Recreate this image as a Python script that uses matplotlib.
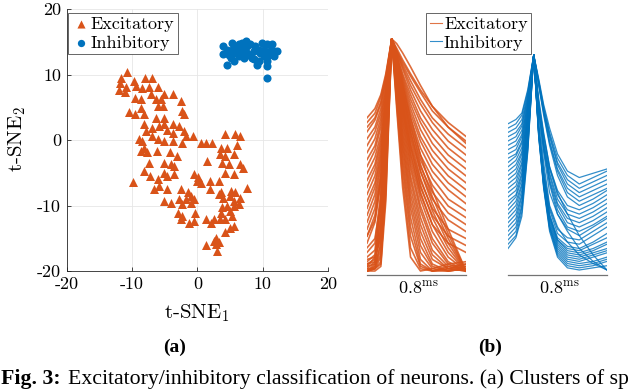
import matplotlib
matplotlib.use("Agg")
import matplotlib.pyplot as plt
from matplotlib.lines import Line2D

plt.rcParams['mathtext.fontset'] = 'cm'
plt.rcParams['axes.unicode_minus'] = False
plt.rcParams['font.family'] = ['cmr10', 'DejaVu Serif']
plt.rcParams['axes.formatter.use_mathtext'] = True

ORANGE = '#D95319'
BLUE = '#0072BD'

# ---------------- (a) t-SNE scatter data ----------------
exc_x = [-10.8, -11.7, -9.7, -11.9, -8.0, -6.9, -10.9, -12.0, -11.1, -9.4, -8.4, -7.4, -6.1,
         -9.6, -8.6, -7.1, -6.3, -5.1, -3.7, -5.6, -2.5, -10.4, -9.6, -8.6, -8.1, -6.1, -5.2,
         -2.3, -2.1, -6.3, -5.1, -8.1, -7.0, -5.8, -5.1, -3.8, -2.8, -7.8, -6.9, -4.7, -3.7,
         -2.0, -1.8, -0.6, -8.9, -8.5, -6.1, -5.1, -3.8, -2.3, 0.5, 1.3, 2.3, 4.2, 5.8, 6.5,
         -8.7, -7.7, -8.1, -6.2, -4.2, -3.1, -7.4, -5.1, -4.1, -3.6, 3.6, 4.6, 6.0, 3.5, 4.2,
         5.6, 1.5, 3.8, 4.8, 6.6, 7.0, -8.1, -5.1, -4.6, -3.6, -7.3, -6.1, -9.9, -0.5, 0.1,
         0.0, 0.5, 1.9, 3.3, 4.2, 5.6, 7.6, -5.8, -6.6, -4.6, -2.5, -1.5, 2.0, 3.6, 5.1, 5.8,
         6.6, -5.1, -4.1, -2.8, -1.8, -0.9, -0.5, -2.3, -1.0, -3.0, -2.3, -0.3, -2.5, -1.3,
         -0.5, 1.4, 2.1, 2.5, 3.5, 4.3, 5.3, 5.6, 4.6, 3.7, 3.6, 3.3, 3.9, 5.0, 5.6, 6.3, 5.0,
         5.6, 5.0, 4.3, 2.8, 2.5, 3.3, 1.4, 2.8, 3.0]
exc_y = [10.4, 9.5, 9.0, 8.7, 9.5, 9.5, 8.1, 7.6, 7.3, 8.3, 8.0, 8.1, 8.1,
         6.4, 6.2, 7.0, 6.2, 7.0, 7.0, 6.2, 5.9, 4.2, 3.9, 4.9, 3.9, 5.2, 5.2,
         4.4, 3.9, 3.4, 3.4, 2.4, 1.9, 2.1, 2.4, 2.4, 2.1, 1.4, 0.6, 1.6, 1.1,
         1.4, 0.6, 0.6, 0.2, -0.2, 0.1, -0.2, -0.2, -0.4, -0.4, -0.4, -0.4, 0.9, 0.9, 0.6,
         -1.7, -1.9, -1.2, -1.7, -1.9, -2.4, -3.5, -3.5, -3.7, -4.0, -1.2, -1.2, -0.7, -2.2, -2.4,
         -2.2, -3.2, -3.5, -3.7, -3.7, -4.2, -4.7, -5.0, -5.5, -5.2, -5.5, -6.0, -6.4, -5.2, -5.7,
         -6.2, -6.5, -6.2, -6.2, -5.0, -5.2, -7.4, -7.0, -7.5, -7.5, -7.5, -8.0, -7.5, -8.0, -7.8, -8.0,
         -8.8, -9.3, -9.6, -9.0, -9.0, -8.5, -9.0, -9.8, -9.6, -11.1, -11.6, -11.1, -12.1, -12.6,
         -12.3, -12.1, -12.6, -12.1, -12.1, -12.1, -11.6, -10.0, -10.0, -10.3, -11.1, -8.3, -8.8, -8.5, -9.3, -9.8, -10.8,
         -13.1, -13.4, -14.1, -14.9, -15.4, -15.6, -16.1, -15.9, -16.9]

inh_x = [4.0, 4.0, 4.6, 5.3, 5.8, 6.3, 7.4, 7.6, 6.9, 5.6, 5.1, 4.6, 5.6, 6.3, 7.9,
         8.6, 8.9, 9.9, 10.7, 11.4, 11.7, 12.2, 9.6, 10.2, 10.9, 9.4, 10.7, 9.1, 8.4,
         7.1, 7.6, 10.7, 10.2, 8.6, 6.6, 11.2, 4.8, 6.1, 9.4, 11.7, 10.7, 8.1, 6.9, 5.3]
inh_y = [14.3, 13.2, 13.8, 14.8, 14.3, 14.6, 15.1, 14.3, 13.8, 13.3, 12.5, 11.5, 12.0, 12.8, 13.0,
         13.6, 14.3, 14.8, 14.6, 14.6, 13.6, 13.6, 13.3, 12.8, 13.0, 12.0, 12.0, 11.5, 12.5,
         12.5, 13.3, 9.5, 13.8, 12.3, 13.3, 13.8, 13.0, 13.8, 13.8, 12.8, 11.3, 14.6, 14.8, 13.8]

tick_vals = [-20, -10, 0, 10, 20]
tick_labels = ['-20', '-10', '0', '10', '20']

# ---------------- (b) normalized spike waveforms (0.8 ms window) ----------------
# each waveform = rising part + peak (1.0) + falling part
exc_t = [0.00, 0.08, 0.14, 0.19, 0.25, 0.30, 0.36, 0.44, 0.54, 0.66, 0.82, 1.00]
exc_rise = [
    [0.00, 0.00, 0.02, 0.30], [0.00, 0.01, 0.04, 0.36], [0.01, 0.01, 0.06, 0.42],
    [0.00, 0.02, 0.09, 0.47], [0.02, 0.03, 0.11, 0.52], [0.00, 0.01, 0.13, 0.56],
    [0.03, 0.05, 0.16, 0.60], [0.01, 0.04, 0.19, 0.63], [0.04, 0.07, 0.22, 0.66],
    [0.00, 0.03, 0.25, 0.68], [0.06, 0.09, 0.28, 0.70], [0.02, 0.06, 0.31, 0.72],
    [0.08, 0.12, 0.34, 0.74], [0.00, 0.02, 0.07, 0.33], [0.05, 0.06, 0.14, 0.44],
    [0.03, 0.04, 0.18, 0.50], [0.10, 0.14, 0.30, 0.62], [0.00, 0.01, 0.03, 0.39],
    [0.66, 0.70, 0.76, 0.85], [0.64, 0.68, 0.75, 0.84], [0.62, 0.66, 0.73, 0.83],
    [0.60, 0.65, 0.72, 0.82], [0.57, 0.62, 0.70, 0.81], [0.54, 0.60, 0.68, 0.79],
    [0.51, 0.57, 0.66, 0.78], [0.48, 0.54, 0.64, 0.77], [0.45, 0.52, 0.62, 0.75],
    [0.42, 0.49, 0.59, 0.74], [0.39, 0.46, 0.57, 0.73], [0.36, 0.44, 0.55, 0.71],
    [0.33, 0.41, 0.53, 0.70], [0.30, 0.38, 0.51, 0.68], [0.27, 0.36, 0.49, 0.67],
    [0.24, 0.33, 0.47, 0.66], [0.21, 0.30, 0.45, 0.64], [0.18, 0.27, 0.42, 0.63],
    [0.15, 0.24, 0.40, 0.62], [0.12, 0.21, 0.38, 0.60], [0.15, 0.22, 0.40, 0.70],
]
exc_fall = [
    [0.96, 0.91, 0.85, 0.78, 0.71, 0.64, 0.58], [0.92, 0.82, 0.70, 0.58, 0.49, 0.41, 0.35],
    [0.94, 0.88, 0.80, 0.72, 0.64, 0.56, 0.50], [0.89, 0.76, 0.60, 0.45, 0.34, 0.25, 0.20],
    [0.93, 0.85, 0.76, 0.66, 0.58, 0.50, 0.44], [0.86, 0.71, 0.53, 0.36, 0.24, 0.15, 0.11],
    [0.95, 0.90, 0.84, 0.77, 0.69, 0.62, 0.56], [0.91, 0.80, 0.66, 0.53, 0.43, 0.35, 0.29],
    [0.93, 0.84, 0.74, 0.64, 0.55, 0.47, 0.41], [0.87, 0.72, 0.55, 0.39, 0.27, 0.18, 0.14],
    [0.95, 0.89, 0.82, 0.74, 0.66, 0.59, 0.53], [0.89, 0.77, 0.62, 0.48, 0.37, 0.28, 0.23],
    [0.92, 0.83, 0.72, 0.61, 0.52, 0.44, 0.38], [0.85, 0.69, 0.50, 0.33, 0.20, 0.12, 0.08],
    [0.94, 0.87, 0.78, 0.69, 0.61, 0.53, 0.47], [0.90, 0.78, 0.64, 0.50, 0.40, 0.31, 0.26],
    [0.91, 0.81, 0.68, 0.56, 0.46, 0.38, 0.32], [0.88, 0.74, 0.58, 0.43, 0.31, 0.22, 0.17],
    [0.91, 0.80, 0.66, 0.50, 0.35, 0.18, 0.00], [0.77, 0.50, 0.23, 0.05, 0.00, 0.00, 0.02],
    [0.84, 0.65, 0.44, 0.26, 0.12, 0.03, 0.00], [0.70, 0.36, 0.06, 0.00, 0.01, 0.03, 0.04],
    [0.87, 0.72, 0.54, 0.37, 0.23, 0.10, 0.00], [0.80, 0.57, 0.33, 0.14, 0.03, 0.00, 0.01],
    [0.74, 0.44, 0.15, 0.02, 0.00, 0.01, 0.03], [0.89, 0.76, 0.60, 0.43, 0.29, 0.14, 0.00],
    [0.82, 0.61, 0.39, 0.20, 0.07, 0.01, 0.00], [0.78, 0.53, 0.27, 0.08, 0.01, 0.00, 0.01],
    [0.85, 0.68, 0.48, 0.31, 0.17, 0.06, 0.00], [0.72, 0.40, 0.10, 0.01, 0.00, 0.02, 0.03],
    [0.90, 0.78, 0.63, 0.46, 0.32, 0.16, 0.00], [0.81, 0.59, 0.36, 0.17, 0.05, 0.01, 0.00],
    [0.76, 0.47, 0.19, 0.03, 0.00, 0.01, 0.02], [0.86, 0.70, 0.51, 0.34, 0.20, 0.08, 0.00],
    [0.83, 0.63, 0.41, 0.23, 0.09, 0.02, 0.00], [0.79, 0.55, 0.30, 0.11, 0.02, 0.00, 0.01],
    [0.88, 0.74, 0.57, 0.40, 0.26, 0.12, 0.00], [0.84, 0.66, 0.46, 0.28, 0.14, 0.04, 0.00],
    [0.98, 0.94, 0.88, 0.80, 0.71, 0.62, 0.55],
]

inh_t = [0.00, 0.08, 0.14, 0.20, 0.26, 0.31, 0.36, 0.42, 0.50, 0.60, 0.72, 0.86, 1.00]
inh_rise = [
    [0.68, 0.70, 0.73, 0.84], [0.66, 0.68, 0.72, 0.83], [0.64, 0.66, 0.70, 0.82],
    [0.62, 0.64, 0.68, 0.81], [0.60, 0.62, 0.67, 0.80], [0.58, 0.60, 0.65, 0.79],
    [0.56, 0.58, 0.63, 0.78], [0.54, 0.56, 0.62, 0.77], [0.52, 0.54, 0.60, 0.76],
    [0.50, 0.53, 0.59, 0.75], [0.48, 0.51, 0.57, 0.74], [0.46, 0.49, 0.55, 0.73],
    [0.44, 0.47, 0.54, 0.72], [0.42, 0.45, 0.52, 0.71], [0.40, 0.43, 0.50, 0.70],
    [0.38, 0.41, 0.49, 0.69], [0.36, 0.39, 0.47, 0.68], [0.34, 0.37, 0.45, 0.67],
    [0.32, 0.35, 0.44, 0.66], [0.30, 0.34, 0.42, 0.65], [0.28, 0.32, 0.40, 0.64],
    [0.26, 0.30, 0.39, 0.63], [0.24, 0.28, 0.37, 0.62], [0.22, 0.26, 0.35, 0.61],
    [0.20, 0.24, 0.34, 0.60], [0.18, 0.22, 0.32, 0.59], [0.16, 0.20, 0.30, 0.58],
    [0.14, 0.18, 0.29, 0.57], [0.12, 0.16, 0.27, 0.56], [0.10, 0.15, 0.25, 0.55],
]
inh_fall = [
    [0.89, 0.77, 0.66, 0.54, 0.46, 0.43, 0.45, 0.47], [0.66, 0.44, 0.26, 0.15, 0.11, 0.10, 0.13, 0.17],
    [0.78, 0.63, 0.48, 0.37, 0.30, 0.28, 0.31, 0.35], [0.63, 0.39, 0.20, 0.08, 0.03, 0.02, 0.03, 0.05],
    [0.87, 0.74, 0.62, 0.49, 0.40, 0.36, 0.39, 0.42], [0.76, 0.58, 0.42, 0.30, 0.22, 0.20, 0.23, 0.27],
    [0.64, 0.42, 0.23, 0.12, 0.07, 0.06, 0.08, 0.10], [0.75, 0.55, 0.36, 0.26, 0.18, 0.10, 0.04, 0.00],
    [0.88, 0.76, 0.64, 0.52, 0.44, 0.40, 0.43, 0.46], [0.67, 0.47, 0.29, 0.19, 0.15, 0.14, 0.18, 0.22],
    [0.77, 0.60, 0.45, 0.33, 0.26, 0.24, 0.27, 0.31], [0.62, 0.38, 0.18, 0.06, 0.01, 0.00, 0.01, 0.02],
    [0.86, 0.73, 0.59, 0.46, 0.36, 0.32, 0.35, 0.38], [0.65, 0.43, 0.25, 0.14, 0.09, 0.08, 0.10, 0.13],
    [0.75, 0.57, 0.41, 0.28, 0.20, 0.18, 0.21, 0.25], [0.64, 0.40, 0.21, 0.10, 0.05, 0.04, 0.06, 0.08],
    [0.88, 0.75, 0.63, 0.50, 0.42, 0.38, 0.41, 0.44], [0.72, 0.50, 0.30, 0.20, 0.13, 0.07, 0.03, 0.00],
    [0.77, 0.59, 0.44, 0.31, 0.24, 0.22, 0.25, 0.29], [0.67, 0.45, 0.28, 0.17, 0.13, 0.12, 0.16, 0.20],
    [0.87, 0.74, 0.60, 0.47, 0.38, 0.34, 0.37, 0.40], [0.63, 0.40, 0.20, 0.09, 0.04, 0.03, 0.04, 0.06],
    [0.78, 0.62, 0.47, 0.35, 0.28, 0.26, 0.29, 0.33], [0.65, 0.44, 0.25, 0.14, 0.10, 0.09, 0.12, 0.15],
    [0.86, 0.72, 0.58, 0.44, 0.34, 0.30, 0.33, 0.37], [0.80, 0.64, 0.48, 0.36, 0.26, 0.16, 0.07, 0.00],
    [0.75, 0.56, 0.40, 0.26, 0.19, 0.16, 0.20, 0.24], [0.65, 0.42, 0.24, 0.13, 0.08, 0.07, 0.09, 0.12],
    [0.64, 0.41, 0.22, 0.11, 0.06, 0.05, 0.07, 0.09], [0.62, 0.39, 0.19, 0.07, 0.02, 0.01, 0.02, 0.04],
]

W, H = 640, 390
fig = plt.figure(figsize=(6.4, 3.9), dpi=100)


def px_rect(x0, y0, x1, y1):
    return [x0 / W, 1 - y1 / H, (x1 - x0) / W, (y1 - y0) / H]


# ---------------- panel (a) ----------------
ax = fig.add_axes(px_rect(66.7, 9, 328, 271))
ax.scatter(exc_x, exc_y, marker='^', s=42, color=ORANGE, linewidths=0,
           label='Excitatory', zorder=3)
ax.scatter(inh_x, inh_y, marker='o', s=34, color=BLUE, linewidths=0,
           label='Inhibitory', zorder=3)
ax.set_xlim(-20, 20)
ax.set_ylim(-20, 20)
ax.set_xticks(tick_vals)
ax.set_yticks(tick_vals)
ax.set_xticklabels(tick_labels)
ax.set_yticklabels(tick_labels)
ax.grid(True, color='0.9', lw=0.6)
ax.set_axisbelow(True)
for s in ['top', 'right']:
    ax.spines[s].set_visible(False)
for s in ['left', 'bottom']:
    ax.spines[s].set_color('0.15')
    ax.spines[s].set_linewidth(0.6)
ax.tick_params(direction='in', length=3, width=0.6, color='0.15',
               labelsize=13, pad=4)
leg = ax.legend(loc='upper left', bbox_to_anchor=(0.005, 0.985), fontsize=13,
                frameon=True, fancybox=False, edgecolor='0.3', framealpha=1,
                handletextpad=0.05, borderpad=0.2, labelspacing=0.15,
                handlelength=1.0, borderaxespad=0.0, markerscale=0.9)
leg.get_frame().set_linewidth(0.6)

fig.text(197 / W, 1 - 313 / H, r't-SNE$_1$', ha='center', va='center', fontsize=15)
fig.text(17 / W, 1 - 139 / H, r't-SNE$_2$', ha='center', va='center',
         fontsize=15, rotation=90)

# ---------------- panel (b) ----------------
axe = fig.add_axes(px_rect(367, 37, 466, 275))
for r, f in zip(exc_rise, exc_fall):
    axe.plot(exc_t, r + [1.0] + f, color=ORANGE, lw=1.2, alpha=0.85)
axe.set_xlim(0, 1)
axe.set_ylim(-4 / 232, 1 + 2 / 232)

axi = fig.add_axes(px_rect(508, 50, 607, 275))
for r, f in zip(inh_rise, inh_fall):
    axi.plot(inh_t, r + [1.0] + f, color=BLUE, lw=0.9, alpha=0.8)
axi.set_xlim(0, 1)
axi.set_ylim(-5 / 215, 1 + 5 / 215)

for a in (axe, axi):
    a.set_xticks([])
    a.set_yticks([])
    for s in ['top', 'right', 'left']:
        a.spines[s].set_visible(False)
    a.spines['bottom'].set_color('0.45')
    a.spines['bottom'].set_linewidth(0.9)
    a.patch.set_alpha(0)

fig.text(418 / W, 1 - 295 / H, r'0.8$^{\mathrm{ms}}$', ha='center', va='baseline', fontsize=13)
fig.text(559 / W, 1 - 295 / H, r'0.8$^{\mathrm{ms}}$', ha='center', va='baseline', fontsize=13)

handles = [Line2D([0], [0], color=ORANGE, lw=0.8, alpha=0.8),
           Line2D([0], [0], color=BLUE, lw=0.8, alpha=0.8)]
legb = fig.legend(handles, ['Excitatory', 'Inhibitory'], loc='upper left',
                  bbox_to_anchor=(426 / W, 1 - 13 / H), fontsize=13,
                  frameon=True, fancybox=False, edgecolor='0.3', framealpha=1,
                  handletextpad=0.1, borderpad=0.2, labelspacing=0.15,
                  handlelength=0.7, borderaxespad=0.0)
legb.get_frame().set_linewidth(0.6)

# ---------------- captions ----------------
CAP = 'Liberation Serif'
fig.text(175 / W, 1 - 347 / H, '(a)', ha='center', va='center', fontsize=14,
         fontweight='bold', family=CAP)
fig.text(490 / W, 1 - 347 / H, '(b)', ha='center', va='center', fontsize=14,
         fontweight='bold', family=CAP)

renderer = fig.canvas.get_renderer()
t1 = fig.text(1 / W, 1 - 384 / H, 'Fig. 3:', ha='left', va='baseline', fontsize=15.7,
              fontweight='bold', family=CAP)
bb = t1.get_window_extent(renderer=renderer)
fig.text((bb.x1 + 7) / W, 1 - 384 / H,
         'Excitatory/inhibitory classification of neurons. (a) Clusters of sp',
         ha='left', va='baseline', fontsize=15.7, family=CAP)

fig.savefig('out.png', dpi=100)
